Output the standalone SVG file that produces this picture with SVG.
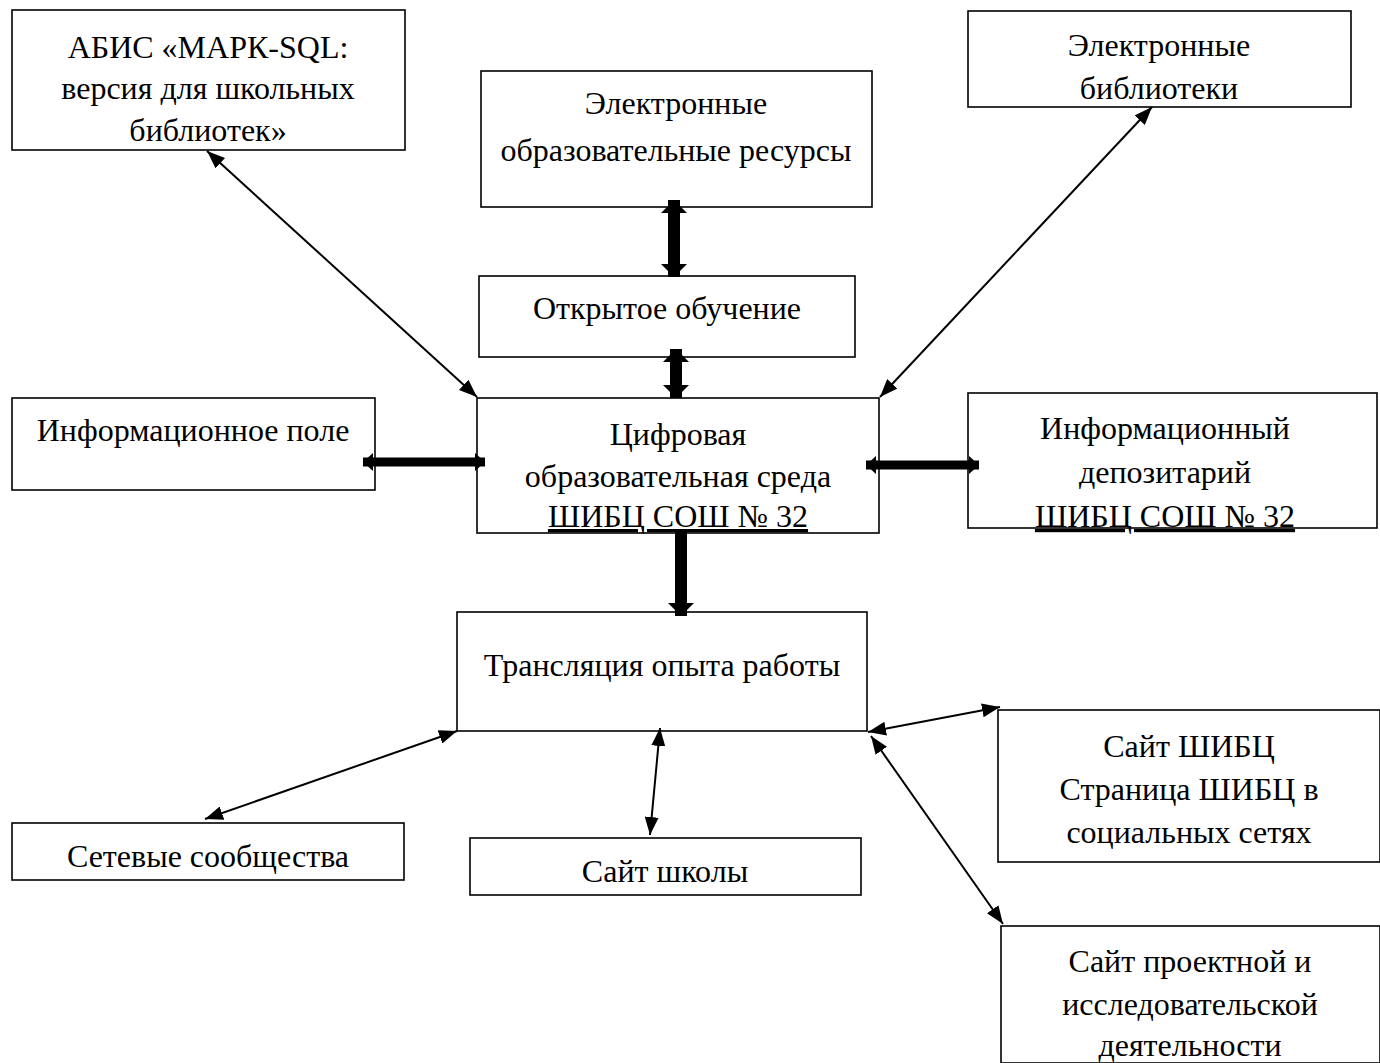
<svg xmlns="http://www.w3.org/2000/svg" width="1380" height="1063" viewBox="0 0 1380 1063">
<style>
.box{fill:#fff;stroke:#000;stroke-width:1.6}
text{font-family:"Liberation Serif","Times New Roman",serif;font-size:32px;fill:#000;text-anchor:middle}
.u{text-decoration:underline}
.thin{stroke:#000;stroke-width:2;fill:none;marker-start:url(#ah);marker-end:url(#ah)}
.thick{stroke:#000;stroke-width:12;fill:none}
.thickh{stroke:#000;stroke-width:9;fill:none}
</style>
<defs>
<marker id="ah" viewBox="0 0 18 14" refX="18" refY="7" markerWidth="18" markerHeight="14" markerUnits="userSpaceOnUse" orient="auto-start-reverse">
<path d="M0,0 L18,7 L0,14 Z" fill="#000"/>
</marker>
<marker id="th" viewBox="0 0 13 26" refX="13" refY="13" markerWidth="13" markerHeight="26" markerUnits="userSpaceOnUse" orient="auto-start-reverse">
<path d="M0,0 L13,13 L0,26 Z" fill="#000"/>
</marker>
<marker id="th2" viewBox="0 0 10 18" refX="10" refY="9" markerWidth="10" markerHeight="18" markerUnits="userSpaceOnUse" orient="auto-start-reverse">
<path d="M0,0 L10,9 L0,18 Z" fill="#000"/>
</marker>
</defs>
<rect width="1380" height="1063" fill="#fff"/>
<g id="n-abis"><rect class="box" x="12" y="10" width="393" height="140"/><text x="208" y="58">АБИС «МАРК-SQL:</text><text x="208" y="99">версия для школьных</text><text x="208" y="141">библиотек»</text></g>
<g id="n-eor"><rect class="box" x="481" y="71" width="391" height="136"/><text x="676" y="114">Электронные</text><text x="676" y="161">образовательные ресурсы</text></g>
<g id="n-elib"><rect class="box" x="968" y="11" width="383" height="96"/><text x="1159" y="56">Электронные</text><text x="1159" y="99">библиотеки</text></g>
<g id="n-open"><rect class="box" x="479" y="276" width="376" height="81"/><text x="667" y="319">Открытое обучение</text></g>
<g id="n-infopole"><rect class="box" x="12" y="398" width="363" height="92"/><text x="193" y="441">Информационное поле</text></g>
<g id="n-digital"><rect class="box" x="477" y="398" width="402" height="135"/><text x="678" y="445">Цифровая</text><text x="678" y="487">образовательная среда</text><text x="678" y="527" class="u">ШИБЦ  СОШ № 32</text></g>
<g id="n-depo"><rect class="box" x="968" y="393" width="409" height="135"/><text x="1165" y="439">Информационный</text><text x="1165" y="483">депозитарий</text><text x="1165" y="527" class="u">ШИБЦ СОШ № 32</text></g>
<g id="n-trans"><rect class="box" x="457" y="612" width="410" height="119"/><text x="662" y="676">Трансляция опыта работы</text></g>
<g id="n-site"><rect class="box" x="998" y="710" width="382" height="152"/><text x="1189" y="757">Сайт ШИБЦ</text><text x="1189" y="800">Страница ШИБЦ в</text><text x="1189" y="843">социальных сетях</text></g>
<g id="n-net"><rect class="box" x="12" y="823" width="392" height="57"/><text x="208" y="867">Сетевые сообщества</text></g>
<g id="n-school"><rect class="box" x="470" y="838" width="391" height="57"/><text x="665" y="882">Сайт школы</text></g>
<g id="n-proj"><rect class="box" x="1001" y="926" width="379" height="137"/><text x="1190" y="972">Сайт проектной и</text><text x="1190" y="1015">исследовательской</text><text x="1190" y="1056">деятельности</text></g>
<g id="connectors">
<line class="thin" x1="207" y1="151" x2="477" y2="397"/>
<line class="thin" x1="1152" y1="107" x2="880" y2="397"/>
<line class="thick" x1="674" y1="200" x2="674" y2="277" marker-start="url(#th)" marker-end="url(#th)"/>
<line class="thick" x1="676" y1="349" x2="676" y2="398" marker-start="url(#th)" marker-end="url(#th)"/>
<line class="thickh" x1="363" y1="462" x2="485" y2="462" marker-start="url(#th2)" marker-end="url(#th2)"/>
<line class="thickh" x1="866" y1="465" x2="979" y2="465" marker-start="url(#th2)" marker-end="url(#th2)"/>
<line class="thick" x1="681" y1="531" x2="681" y2="616" marker-end="url(#th)"/>
<line class="thin" x1="457" y1="731" x2="205" y2="819"/>
<line class="thin" x1="660" y1="728" x2="650" y2="835"/>
<line class="thin" x1="868" y1="732" x2="1000" y2="707"/>
<line class="thin" x1="871" y1="736" x2="1003" y2="924"/>
</g>
</svg>
